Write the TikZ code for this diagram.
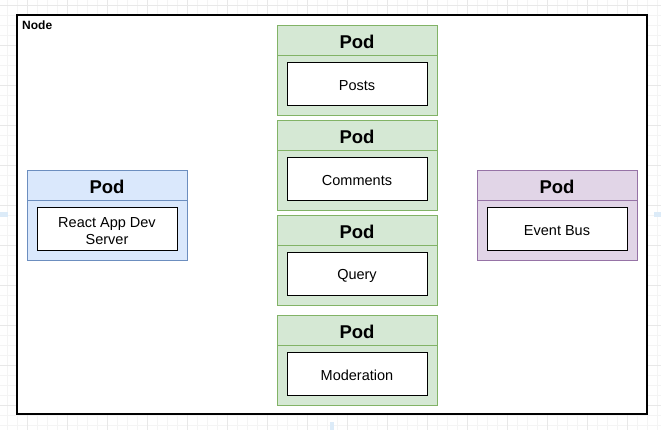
\documentclass[tikz,border=0pt]{standalone}
\usepackage{fontspec}
\setmainfont{Liberation Sans}
\definecolor{bluefill}{HTML}{DAE8FC}
\definecolor{bluedraw}{HTML}{6C8EBF}
\definecolor{greenfill}{HTML}{D5E8D4}
\definecolor{greendraw}{HTML}{82B366}
\definecolor{purplefill}{HTML}{E1D5E7}
\definecolor{purpledraw}{HTML}{9673A6}
\definecolor{gridminor}{HTML}{F4F4F4}
\definecolor{gridmajor}{HTML}{E8E8E8}
\definecolor{hoverblue}{HTML}{DCEBF8}
\begin{document}
\begin{tikzpicture}[x=1pt,y=-1pt,
  podhead/.style={font=\fontsize{18.5}{20}\selectfont\bfseries},
  innerbox/.style={draw=black, fill=white, line width=0.9pt,
    minimum width=140pt, minimum height=43pt, inner sep=0pt},
  innertext/.style={align=center, inner sep=0pt, font=\fontsize{14.5}{17.5}\selectfont},
  pod/.style={line width=0.9pt}]
\useasboundingbox (0,0) rectangle (661,430);
% background grid
\fill[white] (0,0) rectangle (661,430);
\foreach \x in {-3,7,...,661} \draw[gridminor, line width=0.6pt] (\x,0) -- (\x,430);
\foreach \y in {5,15,...,430} \draw[gridminor, line width=0.6pt] (0,\y) -- (661,\y);
\foreach \x in {27,67,...,661} \draw[gridmajor, line width=0.6pt] (\x,0) -- (\x,430);
\foreach \y in {5,45,...,430} \draw[gridmajor, line width=0.6pt] (0,\y) -- (661,\y);
% faint hover marks
\fill[hoverblue] (0,212) rectangle (8,217);
\fill[hoverblue] (654,212) rectangle (661,217);
\fill[hoverblue] (330,422) rectangle (334,430);
% Node frame
\draw[black, fill=white, line width=1.5pt] (17,15) rectangle (647,414);
\node[anchor=base west, inner sep=0pt, font=\fontsize{12}{14}\selectfont\bfseries] (nodelabel) at (22,29.5) {Node};
% React pod
\draw[pod, draw=bluedraw, fill=bluefill] (27,170) rectangle (187,260);
\draw[pod, draw=bluedraw] (27,200) -- (187,200);
\node[podhead] (reacthead) at (107,186.5) {Pod};
\node[innerbox] (react) at (107,228.5) {};
\node[innertext] (reacttext) at (107,231) {React App Dev\\Server};
% Event bus pod
\draw[pod, draw=purpledraw, fill=purplefill] (477,170) rectangle (637,260);
\draw[pod, draw=purpledraw] (477,200) -- (637,200);
\node[podhead] (bushead) at (557,186.5) {Pod};
\node[innerbox] (bus) at (557,228.5) {};
\node[innertext] (bustext) at (557,230.5) {Event Bus};
% Green pods
\foreach \t/\name/\lab in {25/posts/Posts,120/comments/Comments,215/query/Query,315/moderation/Moderation}{
  \draw[pod, draw=greendraw, fill=greenfill] (277,\t) rectangle (437,\t+90);
  \draw[pod, draw=greendraw] (277,\t+30) -- (437,\t+30);
  \node[podhead] (\name head) at (357,\t+16.5) {Pod};
  \node[innerbox] (\name) at (357,\t+58.5) {};
  \node[innertext] (\name text) at (357,\t+60.5) {\lab};
}
\end{tikzpicture}
\end{document}
